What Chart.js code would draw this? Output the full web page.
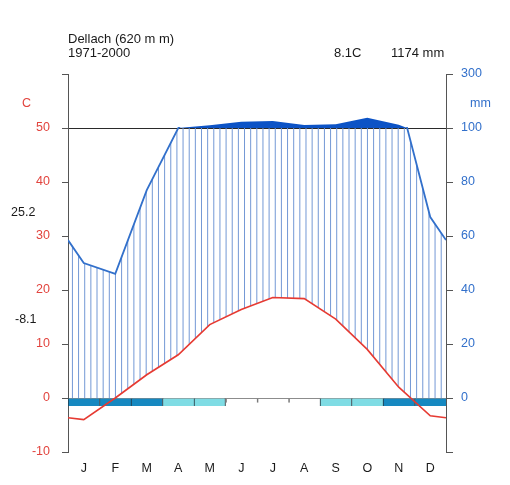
<!DOCTYPE html>
<html>
<head>
<meta charset="utf-8">
<script src="https://cdn.jsdelivr.net/npm/chart.js@4"></script>
<style>
  html, body { margin: 0; padding: 0; background: #fff; }
  #wrap { width: 510px; height: 485px; }
</style>
</head>
<body>
<div id="wrap"><canvas id="climate" width="510" height="485"></canvas></div>
<script>
// Walter-Lieth climate diagram, Dellach 1971-2000
const months = ['J', 'F', 'M', 'A', 'M', 'J', 'J', 'A', 'S', 'O', 'N', 'D'];
const tempC = [-4.0, 0.0, 4.3, 8.0, 13.6, 16.4, 18.6, 18.4, 14.6, 9.0, 2.0, -3.3];
const precipMm = [50, 46, 77, 100, 110, 123, 126, 111, 114, 138, 112, 67];
// frost class per month: 2 = sure frost, 1 = probable frost, 0 = none
const frostClass = [2, 2, 2, 1, 1, 0, 0, 0, 1, 1, 2, 2];
const tempTicks = [-10, 0, 10, 20, 30, 40, 50, 60];

const stationName = 'Dellach (620 m m)';
const periodLabel = '1971-2000';
const warmestMax = '25.2';
const coldestMin = '-8.1';

const FONT = "'Liberation Sans', Arial, sans-serif";
const RED = '#e2443e';
const BLUE = '#3270cb';

// precipitation in temperature units (10 C = 20 mm)
const precipScaled = precipMm.map(p => p / 2);

// the curve closes at both edges on the Dec/Jan mean
function withEdges(vals) {
  const edge = (vals[0] + vals[vals.length - 1]) / 2;
  const pts = [{ x: 0, y: edge }];
  vals.forEach((v, i) => pts.push({ x: i + 0.5, y: v }));
  pts.push({ x: vals.length, y: edge });
  return pts;
}

const meanTemp = (tempC.reduce((a, b) => a + b, 0) / tempC.length).toFixed(1);
const totalPrecip = Math.round(precipMm.reduce((a, b) => a + b, 0));

// vertical hatching for the humid season, between 0 C and the 100 mm line
let hatchCache = null;
function hatchFill(ctx) {
  const chart = ctx.chart;
  const area = chart.chartArea;
  const y = chart.scales.y;
  if (!area || !y) return 'transparent';
  const key = [area.left, area.right, area.top, area.bottom].join(',');
  if (hatchCache && hatchCache.key === key) return hatchCache.pattern;
  const c = document.createElement('canvas');
  c.width = chart.width; c.height = chart.height;
  const g = c.getContext('2d');
  const top = y.getPixelForValue(50), bottom = y.getPixelForValue(0);
  const step = (area.right - area.left) / 61.5;
  g.strokeStyle = '#7398d5';
  g.lineWidth = 1;
  for (let x = area.left + step * 0.72; x < area.right; x += step) {
    g.beginPath(); g.moveTo(x, top); g.lineTo(x, bottom); g.stroke();
  }
  const pattern = chart.ctx.createPattern(c, 'no-repeat');
  hatchCache = { key, pattern };
  return pattern;
}

// keep the precipitation curve below the 100 mm line
const clipCurve = {
  id: 'clipCurve',
  beforeDatasetDraw(chart, args) {
    const ds = chart.data.datasets[args.index];
    if (ds.clipAbove === undefined) return;
    const a = chart.chartArea;
    const yTop = chart.scales.y.getPixelForValue(ds.clipAbove) - 1;
    const ctx = chart.ctx;
    ctx.save();
    ctx.beginPath();
    ctx.rect(a.left - 3, yTop, a.right - a.left + 6, a.bottom - yTop + 3);
    ctx.clip();
  },
  afterDatasetDraw(chart, args) {
    const ds = chart.data.datasets[args.index];
    if (ds.clipAbove === undefined) return;
    chart.ctx.restore();
  }
};

// header, unit captions and extreme temperatures
const captions = {
  id: 'captions',
  afterDraw(chart) {
    const ctx = chart.ctx;
    ctx.save();
    ctx.font = '13px ' + FONT;
    ctx.textBaseline = 'alphabetic';
    ctx.fillStyle = '#1a1a1a';
    ctx.textAlign = 'left';
    ctx.fillText(stationName, 68, 43);
    ctx.fillText(periodLabel, 68, 57);
    ctx.fillText(meanTemp + 'C', 334, 57);
    ctx.fillText(totalPrecip + ' mm', 391, 57);
    ctx.font = '12.5px ' + FONT;
    ctx.fillText(warmestMax, 11, 216);
    ctx.fillText(coldestMin, 15, 323);
    ctx.fillStyle = RED;
    ctx.fillText('C', 22, 107);
    ctx.fillStyle = BLUE;
    ctx.fillText('mm', 470, 107);
    ctx.restore();
  }
};

const frostColors = ['rgba(0,0,0,0)', '#7fdce4', '#1688c0'];
// frost strip depth below 0 C; months without frost only show a short divider
const frostDepth = [-0.9, -1.5, -1.5];

new Chart(document.getElementById('climate'), {
  type: 'line',
  data: {
    datasets: [
      {
        label: 'Temperature',
        data: withEdges(tempC),
        borderColor: '#e63a32',
        borderWidth: 1.6,
        pointRadius: 0,
        fill: false,
        order: 0
      },
      {
        label: 'Precipitation',
        data: withEdges(precipScaled),
        borderColor: BLUE,
        borderWidth: 1.8,
        pointRadius: 0,
        backgroundColor: hatchFill,
        fill: { target: 0, below: 'rgba(0,0,0,0)' },
        clipAbove: 50,
        order: 1
      },
      {
        label: 'Frost',
        type: 'bar',
        data: frostClass.map((f, i) => ({ x: i + 0.5, y: [frostDepth[f], 0] })),
        backgroundColor: frostClass.map(f => frostColors[f]),
        borderColor: frostClass.map(f => f ? '#23343c' : '#7a7a7a'),
        // divider on the left of every month, plus a closing edge before a frost-free month
        borderWidth: frostClass.map((f, i) => ({
          left: 1,
          right: f && i < frostClass.length - 1 && !frostClass[i + 1] ? 1 : 0,
          top: 0,
          bottom: 0
        })),
        borderSkipped: false,
        barPercentage: 1,
        categoryPercentage: 1,
        order: 2
      },
      {
        label: 'Precipitation above 100 mm',
        data: withEdges(precipScaled),
        yAxisID: 'yc',
        borderWidth: 0,
        pointRadius: 0,
        backgroundColor: '#0c53c6',
        fill: { target: { value: 50 }, above: '#0c53c6', below: 'rgba(0,0,0,0)' },
        order: 3
      }
    ]
  },
  options: {
    responsive: false,
    animation: false,
    events: [],
    layout: { padding: { top: 74, left: 0, right: 0, bottom: 0 } },
    plugins: { legend: { display: false }, tooltip: { enabled: false } },
    scales: {
      x: {
        type: 'linear',
        min: 0,
        max: 12,
        offset: false,
        grid: { display: false, drawTicks: false },
        border: { display: false },
        afterBuildTicks: s => { s.ticks = months.map((m, i) => ({ value: i + 0.5 })); },
        afterFit: s => { s.height = 33; },
        ticks: {
          autoSkip: false,
          maxRotation: 0,
          padding: 9,
          color: '#1a1a1a',
          font: { family: FONT, size: 12.5 },
          callback: (v, i) => months[i]
        }
      },
      y: {
        position: 'left',
        min: -10,
        max: 60,
        afterBuildTicks: s => { s.ticks = tempTicks.map(v => ({ value: v })); },
        afterFit: s => { s.width = 68; },
        grid: {
          color: c => c.tick && c.tick.value === 50 ? '#2a2a2a' : (c.tick && c.tick.value === 0 ? '#8c8c8c' : 'rgba(0,0,0,0)'),
          tickColor: '#555',
          tickLength: 6,
          lineWidth: 1
        },
        border: { display: true, color: '#555', width: 1 },
        ticks: {
          padding: 12,
          color: RED,
          font: { family: FONT, size: 12.5 },
          callback: v => v === 60 ? '' : String(v)
        }
      },
      y2: {
        position: 'right',
        min: -10,
        max: 60,
        afterBuildTicks: s => { s.ticks = tempTicks.map(v => ({ value: v })); },
        afterFit: s => { s.width = 64; },
        grid: { drawOnChartArea: false, tickColor: '#555', tickLength: 7 },
        border: { display: true, color: '#555', width: 1 },
        ticks: {
          padding: 8,
          color: BLUE,
          font: { family: FONT, size: 12.5 },
          callback: v => v < 0 ? '' : String(v <= 50 ? v * 2 : 100 + (v - 50) * 20)
        }
      },
      // compressed scale above 100 mm: 10 C = 200 mm
      yc: {
        display: false,
        position: 'right',
        min: -550,
        max: 150
      }
    }
  },
  plugins: [clipCurve, captions]
});
</script>
</body>
</html>
